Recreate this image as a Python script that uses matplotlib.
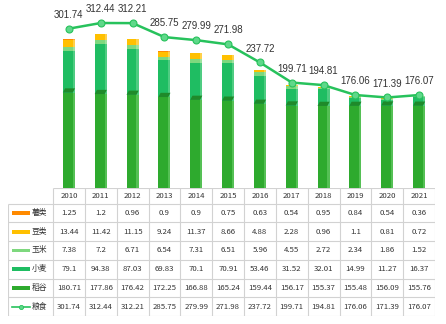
import numpy as np
import matplotlib
matplotlib.use("Agg")
import matplotlib.pyplot as plt

plt.rcParams['font.family'] = ['Noto Sans CJK SC', 'DejaVu Sans']

# data
years = ["2010", "2011", "2012", "2013", "2014", "2015",
         "2016", "2017", "2018", "2019", "2020", "2021"]
shu = [1.25, 1.2, 0.96, 0.9, 0.9, 0.75, 0.63, 0.54, 0.95, 0.84, 0.54, 0.36]
dou = [13.44, 11.42, 11.15, 9.24, 11.37, 8.66, 4.88, 2.28, 0.96, 1.1, 0.81, 0.72]
yumi = [7.38, 7.2, 6.71, 6.54, 7.31, 6.51, 5.96, 4.55, 2.72, 2.34, 1.86, 1.52]
xiaomai = [79.1, 94.38, 87.03, 69.83, 70.1, 70.91, 53.46, 31.52, 32.01, 14.99, 11.27, 16.37]
daogu = [180.71, 177.86, 176.42, 172.25, 166.88, 165.24, 159.44, 156.17, 155.37, 155.48, 156.09, 155.76]
liangshi = [301.74, 312.44, 312.21, 285.75, 279.99, 271.98, 237.72, 199.71, 194.81, 176.06, 171.39, 176.07]

labels = ["薯类", "豆类", "玉米", "小麦", "稻谷"]
front = ["#ff8a00", "#ffc000", "#7ed87e", "#1fbd62", "#2eaa2e"]
side = ["#ffa640", "#ffd04a", "#9ee29e", "#4fcc82", "#55c055"]
line_color = "#27c25c"

W, H = 446, 324
fig = plt.figure(figsize=(W / 100, H / 100), dpi=100)

# bars
ax = fig.add_axes([53 / W, (H - 188) / H, 382 / W, 188 / H])
x = np.arange(len(years))
stack = [daogu, xiaomai, yumi, dou, shu]
stack_front = front[::-1]
stack_side = side[::-1]
bottom = np.zeros(len(years))
fw, sw = 0.31, 0.07
for vals, fc, sc in zip(stack, stack_front, stack_side):
    vals = np.array(vals)
    ax.bar(x - 0.19, vals, width=fw, bottom=bottom, align="edge", color=fc, lw=0)
    ax.bar(x - 0.19 + fw, vals, width=sw, bottom=bottom, align="edge", color=sc, lw=0)
    bottom = bottom + vals

# dark top of the rice segment
for xi, top in zip(x, daogu):
    ax.fill([xi - 0.19, xi - 0.19 + sw, xi + 0.19, xi - 0.19 + fw],
            [top, top + 8, top + 8, top], color="#1f8a2a", lw=0)

# total line
ax.plot(x, liangshi, color=line_color, lw=1.8, marker="o", ms=5,
        mfc="#5fd88a", mec=line_color, mew=0.8, zorder=5)
for xi, v in zip(x, liangshi):
    ax.annotate(f"{v:.2f}", (xi, v), xytext=(0, 10), textcoords="offset points",
                ha="center", va="center", fontsize=7, color="#333333",
                family="Liberation Sans")
ax.set_xlim(-0.5, 11.5)
ax.set_ylim(0, 356)
ax.axis("off")

# data table
col_w = 382 / 12
lab_w = 45 / col_w
tax = fig.add_axes([8 / W, 8 / H, 427 / W, 128 / H])
hdr = 0.83
tax.set_xlim(-0.5 - lab_w, 11.5)
tax.set_ylim(6, -hdr)
tax.axis("off")
grid = "#d2d2d2"
tax.hlines(-hdr, -0.5, 11.5, color=grid, lw=0.8)
tax.hlines(np.arange(7), -0.5 - lab_w, 11.5, color=grid, lw=0.8)
tax.vlines(np.arange(13) - 0.5, -hdr, 6, color=grid, lw=0.8)
tax.vlines(-0.5 - lab_w, 0, 6, color=grid, lw=0.8)

for i, yr in enumerate(years):
    tax.text(i, -hdr / 2, yr, ha="center", va="center", fontsize=5.6, color="#333333")

rows = [shu, dou, yumi, xiaomai, daogu, liangshi]
row_names = labels + ["粮食"]
sx0 = -0.5 - lab_w + 4 / col_w
sx1 = -0.5 - lab_w + 22 / col_w
for r, (vals, name) in enumerate(zip(rows, row_names)):
    yc = r + 0.5
    for i, v in enumerate(vals):
        tax.text(i, yc, f"{v:g}", ha="center", va="center", fontsize=5.6, color="#333333")
    if r < 5:
        tax.fill_between([sx0, sx1], yc - 0.1, yc + 0.1, color=front[r], lw=0)
    else:
        tax.plot([sx0, sx1], [yc, yc], color=line_color, lw=1.2)
        tax.plot([(sx0 + sx1) / 2], [yc], "o", ms=3, mfc="#5fd88a", mec=line_color, mew=0.6)
    tax.text(sx1 + 2 / col_w, yc, name, ha="left", va="center", fontsize=5.6, color="#333333")

fig.savefig("out.png", dpi=100)
